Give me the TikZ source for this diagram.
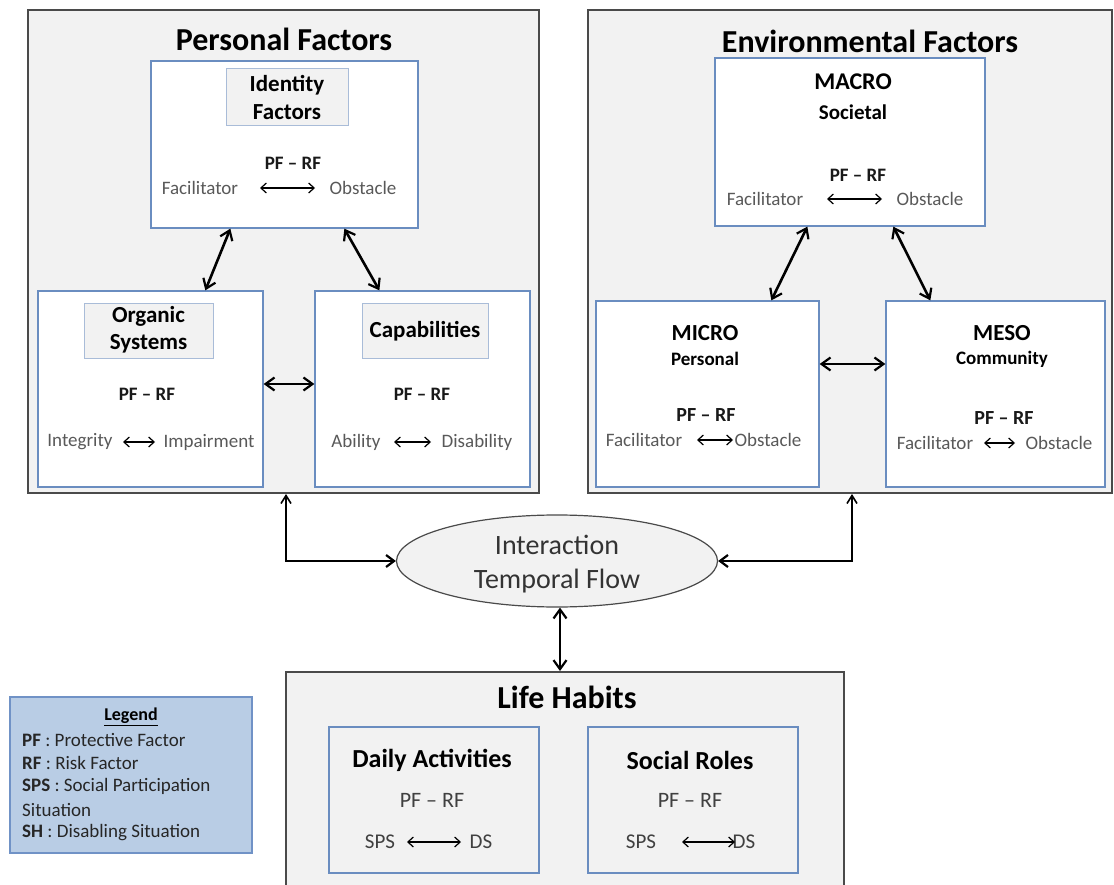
\documentclass[tikz,border=0pt]{standalone}
\usepackage{fontspec}
\setmainfont{Carlito}
\usetikzlibrary{arrows.meta,shapes.geometric,calc}
\definecolor{bgc}{HTML}{F2F2F2}
\definecolor{outc}{HTML}{4A4A4A}
\definecolor{boxc}{HTML}{6A8DC0}
\definecolor{lblc}{HTML}{A9BCD8}
\definecolor{legf}{HTML}{B9CDE5}
\definecolor{legc}{HTML}{7092C6}
\definecolor{grayt}{HTML}{595959}
\newcommand\myfs[1]{\fontsize{#1}{#1}\selectfont}
\tikzset{
  outerbox/.style={draw=outc, line width=2pt, fill=bgc, inner sep=0},
  innerbox/.style={draw=boxc, line width=1.3pt, fill=white, inner sep=0},
  grayinner/.style={draw=boxc, line width=1.3pt, fill=bgc, inner sep=0},
  lblbox/.style={draw=lblc, line width=0.9pt, fill=bgc, inner sep=0},
  txt/.style={inner sep=0, anchor=center},
  title/.style={txt, font=\myfs{32}\bfseries},
  head/.style={txt, font=\myfs{23}\bfseries},
  pfrf/.style={txt, font=\myfs{19}\bfseries, text=black!90},
  desc/.style={txt, font=\myfs{19}, text=grayt},
  lhtxt/.style={txt, font=\myfs{21}, text=black!75},
  conn/.style={line width=2.6pt, {Straight Barb[length=9pt,width=13pt,line width=2.2pt]}-{Straight Barb[length=9pt,width=13pt,line width=2.2pt]}},
  elbow/.style={line width=2.2pt, {Straight Barb[length=8pt,width=10pt,line width=1.6pt]}-{Straight Barb[length=8pt,width=12pt,line width=2.2pt]}},
  sarr/.style={line width=1.2pt, {Straight Barb[length=5.5pt,width=10pt]}-{Straight Barb[length=5.5pt,width=10pt]}},
  legt/.style={inner sep=0, anchor=west, font=\myfs{19}, text=black!85}
}
\begin{document}
\begin{tikzpicture}[x=1pt,y=-1pt]
\clip (0,0) rectangle (1114,885);
\useasboundingbox (0,0) rectangle (1114,885);

% ---------- Personal Factors ----------
\node[outerbox, minimum width=511, minimum height=483] (pf) at (283.5,251.5) {};
\node[title] (pft) at (284,39) {Personal Factors};

\node[innerbox, minimum width=267, minimum height=167] (idf) at (284.5,144.5) {};
\node[lblbox, minimum width=122, minimum height=57] (idl) at (287,96.5) {};
\node[head] (idl1) at (287,85) {Identity};
\node[head] (idl2) at (287,112) {Factors};
\node[pfrf] (idpf) at (293,163) {PF – RF};
\node[desc] (idfa) at (200,188) {Facilitator};
\node[desc] (idob) at (363,188) {Obstacle};
\coordinate (ida1) at (260,188);
\coordinate (ida2) at (315,188);
\draw[sarr] (ida1) -- (ida2);

\node[innerbox, minimum width=225, minimum height=196] (org) at (150.5,389) {};
\node[lblbox, minimum width=129, minimum height=55] (orgl) at (148.5,330.5) {};
\node[head] (orgl1) at (148.5,316) {Organic};
\node[head] (orgl2) at (148.5,344) {Systems};
\node[pfrf] (orgpf) at (147,394) {PF – RF};
\node[desc] (orgin) at (80,442) {Integrity};
\node[desc] (orgim) at (209,442) {Impairment};
\coordinate (orga1) at (123,442);
\coordinate (orga2) at (155,442);
\draw[sarr] (orga1) -- (orga2);

\node[innerbox, minimum width=215, minimum height=196] (cap) at (422.5,389) {};
\node[lblbox, minimum width=126, minimum height=55] (capl) at (425,330.5) {};
\node[head] (capl1) at (425,331) {Capabilities};
\node[pfrf] (cappf) at (422,394) {PF – RF};
\node[desc] (capab) at (356,442) {Ability};
\node[desc] (capdi) at (477,442) {Disability};
\coordinate (capa1) at (394,442);
\coordinate (capa2) at (431,442);
\draw[sarr] (capa1) -- (capa2);

\draw[conn] ($(idf.south west)+(80,0)$) -- ($(org.north west)+(168,0)$);
\draw[conn] ($(idf.south west)+(194,0)$) -- ($(cap.north west)+(65,0)$);
\draw[conn] ($(org.east)+(0,-5)$) -- ($(cap.west)+(0,-5)$);

% ---------- Environmental Factors ----------
\node[outerbox, minimum width=524, minimum height=483] (ef) at (850,251.5) {};
\node[title] (eft) at (870,41) {Environmental Factors};

\node[innerbox, minimum width=270, minimum height=168] (mac) at (850,142) {};
\node[txt, font=\myfs{24}\bfseries] (mac1) at (853,82) {MACRO};
\node[txt, font=\myfs{21}\bfseries] (mac2) at (853,112) {Societal};
\node[pfrf] (macpf) at (858,175) {PF – RF};
\node[desc] (macfa) at (765,199) {Facilitator};
\node[desc] (macob) at (930,199) {Obstacle};
\coordinate (maca1) at (827,199);
\coordinate (maca2) at (882,199);
\draw[sarr] (maca1) -- (maca2);

\node[innerbox, minimum width=223, minimum height=186] (mic) at (707.5,394) {};
\node[txt, font=\myfs{23}\bfseries] (mic1) at (705,333) {MICRO};
\node[txt, font=\myfs{19}\bfseries] (mic2) at (705,359) {Personal};
\node[pfrf, font=\myfs{20}\bfseries] (micpf) at (706,415) {PF – RF};
\node[desc] (micfa) at (644,440) {Facilitator};
\node[desc] (micob) at (768,440) {Obstacle};
\coordinate (mica1) at (697,440);
\coordinate (mica2) at (733,440);
\draw[sarr] (mica1) -- (mica2);

\node[innerbox, minimum width=219, minimum height=186] (mes) at (995.5,394) {};
\node[txt, font=\myfs{23}\bfseries] (mes1) at (1002,333) {MESO};
\node[txt, font=\myfs{19}\bfseries] (mes2) at (1002,359) {Community};
\node[pfrf, font=\myfs{20}\bfseries] (mespf) at (1004,418) {PF – RF};
\node[desc] (mesfa) at (935,443) {Facilitator};
\node[desc] (mesob) at (1059,443) {Obstacle};
\coordinate (mesa1) at (984,443);
\coordinate (mesa2) at (1015,443);
\draw[sarr] (mesa1) -- (mesa2);

\draw[conn] ($(mac.south west)+(93,0)$) -- ($(mic.north west)+(176,0)$);
\draw[conn] ($(mac.south west)+(179,0)$) -- ($(mes.north west)+(45,0)$);
\draw[conn] ($(mic.east)+(0,-30)$) -- ($(mes.west)+(0,-30)$);

% ---------- Interaction ----------
\node[ellipse, draw=outc, line width=1.2pt, fill=bgc, minimum width=321, minimum height=92, inner sep=0] (ell) at (557,561) {};
\node[txt, font=\myfs{28}, text=black!80] (ell1) at (557,545) {Interaction};
\node[txt, font=\myfs{28}, text=black!80] (ell2) at (557,581) {Temporal Flow};

\draw[elbow] ($(pf.south west)+(259,0)$) |- (ell.west);
\draw[elbow] ($(ef.south west)+(265,0)$) |- (ell.east);

% ---------- Life Habits ----------
\node[outerbox, minimum width=558, minimum height=228] (lh) at (565,786) {};
\node[title] (lht) at (567,697) {Life Habits};
\draw[conn] (ell.south -| 560,0) -- (lh.north -| 560,0);

\node[grayinner, minimum width=210, minimum height=146] (da) at (434,800) {};
\node[txt, font=\myfs{26}\bfseries] (da1) at (432,760) {Daily Activities};
\node[lhtxt, font=\myfs{22}] (dapf) at (432,800) {PF – RF};
\node[lhtxt] (dasps) at (380,842) {SPS};
\node[lhtxt] (dads) at (481,842) {DS};
\coordinate (daa1) at (407,842);
\coordinate (daa2) at (461,842);
\draw[sarr] (daa1) -- (daa2);

\node[grayinner, minimum width=210, minimum height=146] (sr) at (693,800) {};
\node[txt, font=\myfs{26}\bfseries] (sr1) at (690,760) {Social Roles};
\node[lhtxt, font=\myfs{22}] (srpf) at (690,800) {PF – RF};
\node[lhtxt] (srsps) at (641,842) {SPS};
\node[lhtxt] (srds) at (744,842) {DS};
\coordinate (sra1) at (682,842);
\coordinate (sra2) at (735,842);
\draw[sarr] (sra1) -- (sra2);

% ---------- Legend ----------
\node[draw=legc, line width=1.2pt, fill=legf, minimum width=242, minimum height=156, inner sep=0] (leg) at (131,775) {};
\node[txt, font=\myfs{18}\bfseries] (legh) at (131,717) {\underline{Legend}};
\node[legt] (leg1) at (22,740) {\textbf{PF} : Protective Factor};
\node[legt] (leg2) at (22,763) {\textbf{RF} : Risk Factor};
\node[legt] (leg3) at (22,786) {\textbf{SPS} : Social Participation};
\node[legt] (leg4) at (22,810) {Situation};
\node[legt] (leg5) at (22,833) {\textbf{SH} : Disabling Situation};
\end{tikzpicture}
\end{document}
